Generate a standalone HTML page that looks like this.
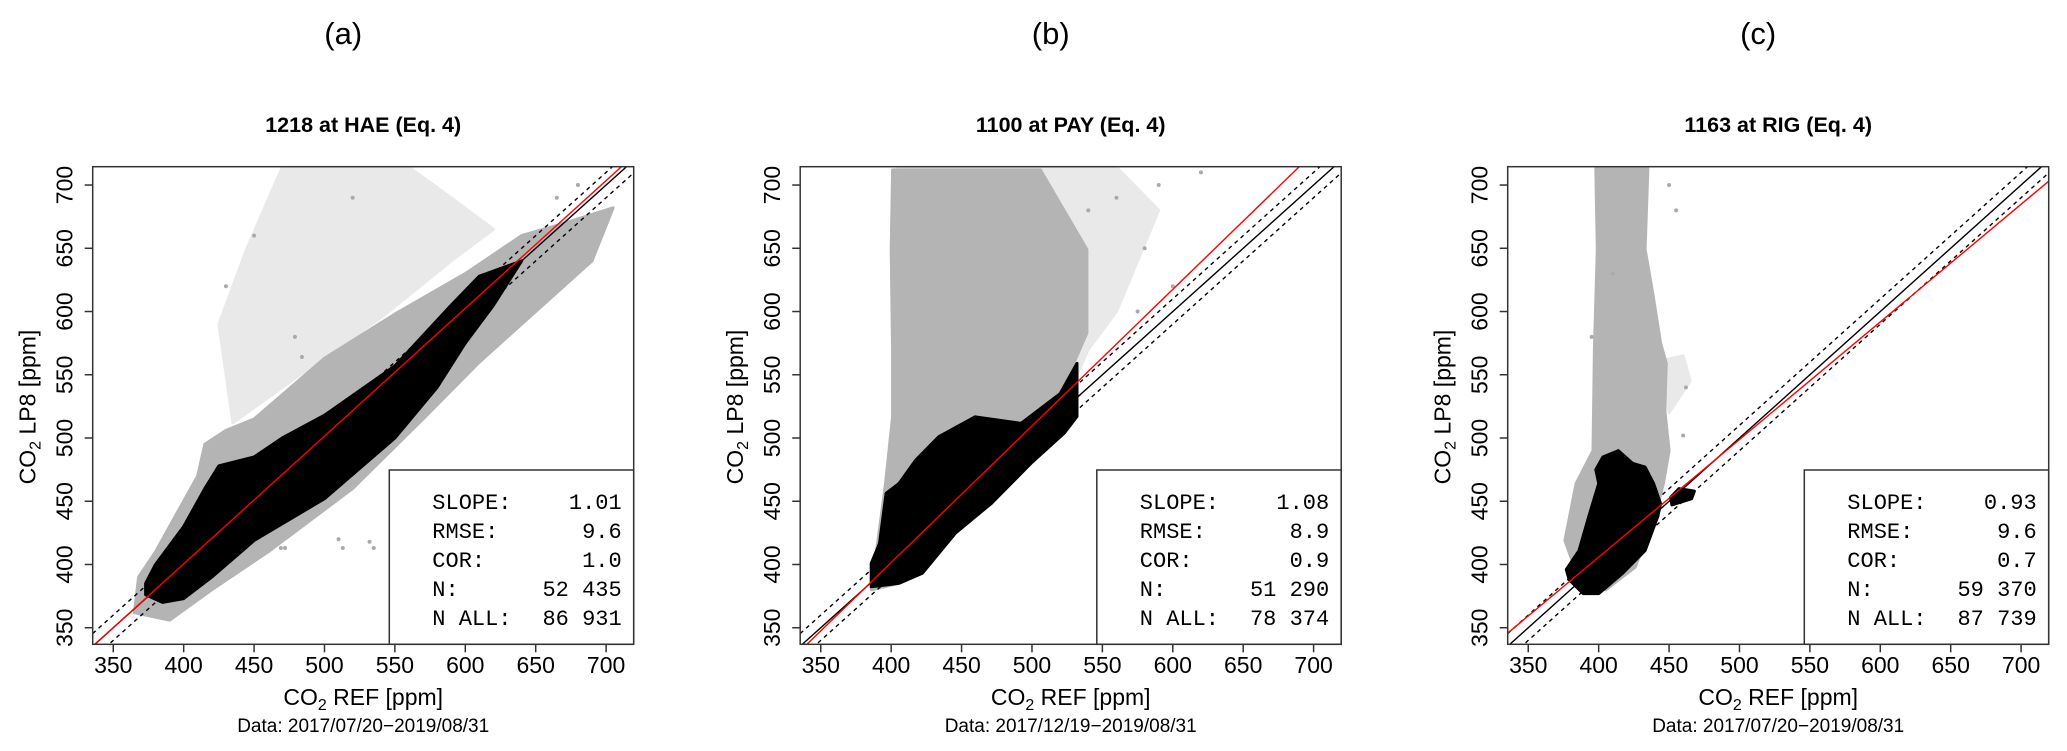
<!DOCTYPE html>
<html><head><meta charset="utf-8">
<style>
html,body{margin:0;padding:0;background:#fff;}
svg{display:block;}
text{font-family:"Liberation Sans",Arial,sans-serif;fill:#000;}
.mono{font-family:"Liberation Mono","DejaVu Sans Mono",monospace;}
</style></head>
<body>
<svg id="chart" width="2067" height="751" viewBox="0 0 2067 751" xmlns="http://www.w3.org/2000/svg"></svg>
<script>
// ---- data ----
const panelLetters = ["(a)", "(b)", "(c)"];
const panelTitles = ["1218 at HAE (Eq. 4)", "1100 at PAY (Eq. 4)", "1163 at RIG (Eq. 4)"];
const dateRanges = ["Data: 2017/07/20\u22122019/08/31", "Data: 2017/12/19\u22122019/08/31", "Data: 2017/07/20\u22122019/08/31"];
const tickValues = [350, 400, 450, 500, 550, 600, 650, 700];
const statLabels = ["SLOPE:", "RMSE:", "COR:", "N:", "N ALL:"];
const statsA = ["1.01", "9.6", "1.0", "52 435", "86 931"];
const statsB = ["1.08", "8.9", "0.9", "51 290", "78 374"];
const statsC = ["0.93", "9.6", "0.7", "59 370", "87 739"];
const slopes = [1.01, 1.08, 0.93];
const intercepts = [-3.5, -30.5, 33.8];
// cloud outlines in data units (x = REF ppm, y = LP8 ppm)
const sparseGreyA = [[425,590],[445,650],[470,714],[560,714],[590,690],[620,665],[590,640],[540,595],[480,548],[435,512]];
const denseGreyA = [[365,362],[390,356],[420,380],[460,410],[520,460],[570,515],[610,560],[650,600],[690,640],[705,682],[665,668],[640,660],[600,630],[550,598],[500,563],[450,515],[430,506],[415,495],[410,470],[395,440],[380,410],[368,390]];
const blackA = [[373,376],[385,370],[400,373],[420,390],[450,419],[500,452],[550,500],[580,540],[600,575],[620,605],[640,640],[610,628],[590,605],[550,557],[500,518],[470,500],[450,485],[425,478],[415,460],[400,430],[390,415],[380,400],[373,385]];
const sparseGreyB = [[405,714],[560,714],[590,680],[560,600],[540,570],[530,545],[470,560],[420,600]];
const denseGreyB = [[386,380],[396,464],[401,517],[401,566],[400,649],[401,712],[506,712],[539,649],[539,583],[530,560],[527,538],[522,504],[499,480],[471,448],[445,425],[422,393],[405,385]];
const blackB = [[385.8,382.4],[405.7,385.1],[422.1,393],[445.5,424.6],[471.2,448.4],[499.3,480],[522.8,503.7],[532,517],[532,559],[520,535],[492.3,511.6],[459.6,516.8],[433.8,501],[417.5,482.6],[405.7,464.2],[396.4,456.3],[391.7,416.7],[385.8,400.9]];
const sparseGreyC = [[440,560],[460,565],[465,545],[450,520]];
const denseGreyC = [[398,713],[435,713],[433,649],[438,617],[444,575],[448,559],[447,522],[450,490],[446,464],[440,438],[426,398],[405,380],[386,388],[376,419],[384,464],[396,490],[397,570],[399,649]];
const blackC = [[377,396],[386,411],[393,438],[400,464],[398,475],[403,485],[414,490],[424,480],[433,477],[439,464],[444,448],[442,438],[433,411],[417,393],[400,377],[389,377],[379,388]];
const blobC = [[452,447],[466,452],[468,458],[457,460],[451,453]];
const outliersA = [[479,580],[484,564],[510,420],[513,413],[532,418],[535,413],[469,413],[472,413],[680,700],[665,690],[430,620],[450,660],[520,690]];
const outliersB = [[560,690],[580,650],[600,620],[575,600],[590,700],[620,710],[540,680]];
const outliersC = [[410,630],[462,540],[460,502],[450,700],[455,680],[395,580]];

const NS = "http://www.w3.org/2000/svg";
const svg = document.getElementById("chart");
function mk(tag, attrs, parent) {
  const e = document.createElementNS(NS, tag);
  for (const k in attrs) e.setAttribute(k, attrs[k]);
  (parent || svg).appendChild(e);
  return e;
}
const X0 = 335.4, X1 = 719.6, Y0 = 336.9, Y1 = 714.5;
const BOXW = 541, BOXTOP = 166.7, BOXBOT = 644.3;
const panelLefts = [92.7, 800.2, 1507.7];
const allStats = [statsA, statsB, statsC];
const sparse = [sparseGreyA, sparseGreyB, sparseGreyC];
const dense = [denseGreyA, denseGreyB, denseGreyC];
const blacks = [[blackA], [blackB], [blackC, blobC]];
const outs = [outliersA, outliersB, outliersC];

for (let p = 0; p < 3; p++) {
  const L = panelLefts[p];
  const sx = v => L + (v - X0) / (X1 - X0) * BOXW;
  const sy = v => BOXBOT - (v - Y0) / (Y1 - Y0) * (BOXBOT - BOXTOP);
  const cx = L + BOXW / 2;
  const g = mk("g", {});
  
  

  const lt = mk("text", {x: cx - 20, y: 44, "font-size": 31, "text-anchor": "middle"}, g);
  lt.textContent = panelLetters[p];
  
  

  const tt = mk("text", {x: cx, y: 132, "font-size": 21.5, "font-weight": "bold", "text-anchor": "middle"}, g);
  tt.textContent = panelTitles[p];
  
  

  const cid = "clip" + p;
  const cp = mk("clipPath", {id: cid}, g);
  mk("rect", {x: L, y: BOXTOP, width: BOXW, height: BOXBOT - BOXTOP}, cp);
  const plot = mk("g", {"clip-path": "url(#" + cid + ")"}, g);
  
  

  const poly = (pts, fill, name) => {
    const e = mk("polygon", {points: pts.map(q => sx(q[0]).toFixed(1) + "," + sy(q[1]).toFixed(1)).join(" "), fill: fill, stroke: fill, "stroke-width": 3, "stroke-linejoin": "round"}, plot);
    
    
  };
  poly(sparse[p], "#e9e9e9", "sparse-grey-points");
  poly(dense[p], "#b4b4b4", "grey-points-all");
  outs[p].forEach(q => {
    const c = mk("circle", {cx: sx(q[0]), cy: sy(q[1]), r: 2, fill: "#aaa"}, plot);
    
    
  });
  blacks[p].forEach(b => poly(b, "#000", "black-points-filtered"));

  const line = (a, b, color, dash, name) => {
    const e = mk("line", {x1: sx(X0), y1: sy(a * X0 + b), x2: sx(X1), y2: sy(a * X1 + b), stroke: color, "stroke-width": 1.4}, plot);
    if (dash) e.setAttribute("stroke-dasharray", "4,4");
    
    
  };
  line(1, 10, "#000", true, "upper-tolerance-line");
  line(1, -10, "#000", true, "lower-tolerance-line");
  line(1, 0, "#000", false, "one-to-one-line");
  line(slopes[p], intercepts[p], "#ff0000", false, "regression-line");

  // legend box
  const LX = L + 296.6, LY = 470;
  const lg = mk("g", {}, g);
  
  
  mk("rect", {x: LX, y: LY, width: L + BOXW - LX, height: BOXBOT - LY, fill: "#fff", stroke: "#333", "stroke-width": 1.5}, lg);
  statLabels.forEach((s, i) => {
    const y = 509 + i * 29;
    const a = mk("text", {x: LX + 43, y: y, "font-size": 22, class: "mono"}, lg);
    a.textContent = s;
    
    
    const b = mk("text", {x: L + BOXW - 12, y: y, "font-size": 22, class: "mono", "text-anchor": "end"}, lg);
    b.textContent = allStats[p][i];
    
    
  });

  // box
  const bx = mk("rect", {x: L, y: BOXTOP, width: BOXW, height: BOXBOT - BOXTOP, fill: "none", stroke: "#333", "stroke-width": 1.5}, g);
  
  

  // axes
  const xa = mk("g", {}, g);
  
  
  const ya = mk("g", {}, g);
  
  
  tickValues.forEach(v => {
    mk("line", {x1: sx(v), y1: BOXBOT, x2: sx(v), y2: BOXBOT + 8, stroke: "#333", "stroke-width": 1.5}, xa);
    const t = mk("text", {x: sx(v), y: 673, "font-size": 23, "text-anchor": "middle"}, xa);
    t.textContent = v;
    
    
    mk("line", {x1: L, y1: sy(v), x2: L - 8, y2: sy(v), stroke: "#333", "stroke-width": 1.5}, ya);
    const u = mk("text", {x: 0, y: 0, "font-size": 23, "text-anchor": "middle", transform: "translate(" + (L - 20) + "," + sy(v) + ") rotate(-90)"}, ya);
    u.textContent = v;
    
    
  });
  const xt = mk("text", {x: cx, y: 705, "font-size": 23, "text-anchor": "middle"}, g);
  xt.innerHTML = 'CO<tspan font-size="16" dy="5">2</tspan><tspan dy="-5"> REF [ppm]</tspan>';
  
  
  const yt = mk("text", {x: 0, y: 0, "font-size": 23, "text-anchor": "middle", transform: "translate(" + (L - 57) + ",407) rotate(-90)"}, g);
  yt.innerHTML = 'CO<tspan font-size="16" dy="5">2</tspan><tspan dy="-5"> LP8 [ppm]</tspan>';
  
  
  const dt = mk("text", {x: cx, y: 732, "font-size": 19, "text-anchor": "middle"}, g);
  dt.textContent = dateRanges[p];
  
  
}
</script>
</body></html>
